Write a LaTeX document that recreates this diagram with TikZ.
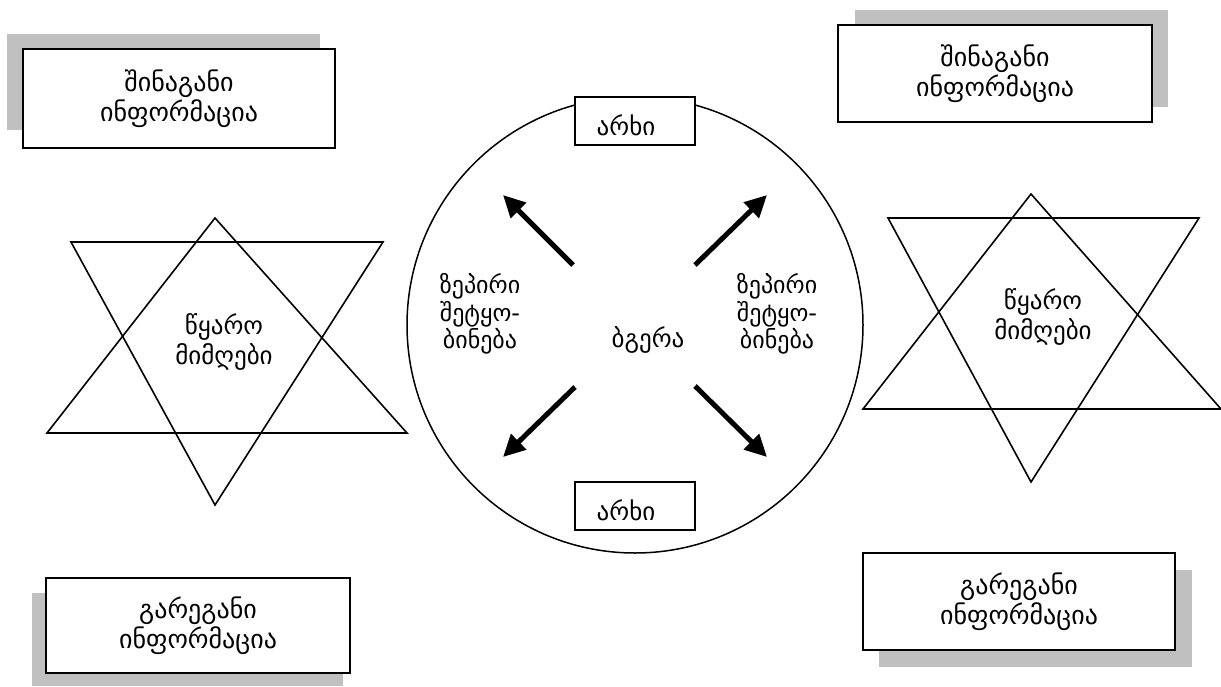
\documentclass[tikz,border=0pt]{standalone}
\usepackage{fontspec}
\newfontfamily\geo{DejaVu Sans}
\usetikzlibrary{arrows.meta}
\definecolor{shadowgray}{HTML}{C0C0C0}
\tikzset{
  infobox/.style={draw, line width=1.6pt, fill=white, align=center,
    font=\geo\fontsize{26}{30}\selectfont, inner sep=0pt},
  starline/.style={line width=1.6pt, line join=miter},
  starlabel/.style={align=center, font=\geo\fontsize{25}{30}\selectfont},
  chanbox/.style={draw, line width=1.2pt, fill=white,
    minimum width=120pt, minimum height=48pt, inner sep=0pt},
  chanlabel/.style={font=\geo\fontsize{25}{28}\selectfont, inner sep=0pt},
  innerlabel/.style={align=center, font=\geo\fontsize{24}{27.5}\selectfont},
  flow/.style={line width=5pt, -{Triangle[length=22pt,width=21pt]}},
}
\begin{document}
\begin{tikzpicture}[x=1pt,y=-1pt]
\useasboundingbox (0,0) rectangle (1221,686);

% shadows behind the information boxes
\fill[shadowgray] (7,34) rectangle (320,130);
\fill[shadowgray] (855,10) rectangle (1168,107);
\fill[shadowgray] (32,593) rectangle (343,686);
\fill[shadowgray] (879,570) rectangle (1192,667);

% information boxes
\node[infobox, minimum width=312pt, minimum height=99pt] (intl) at (179,98.5)
  {შინაგანი\\ინფორმაცია};
\node[infobox, minimum width=314pt, minimum height=97pt] (intr) at (995,73.5)
  {შინაგანი\\ინფორმაცია};
\node[infobox, minimum width=304pt, minimum height=95pt] (extl) at (198,625.5)
  {გარეგანი\\ინფორმაცია};
\node[infobox, minimum width=312pt, minimum height=97pt] (extr) at (1019,601.5)
  {გარეგანი\\ინფორმაცია};

% left star: source / receiver
\coordinate (lu1) at (215,218);
\coordinate (lu2) at (47,433);
\coordinate (lu3) at (407,433);
\coordinate (ld1) at (71,242);
\coordinate (ld2) at (383,242);
\coordinate (ld3) at (215,505);
\draw[starline] (lu1) -- (lu2) -- (lu3) -- cycle;
\draw[starline] (ld1) -- (ld2) -- (ld3) -- cycle;
\node[starlabel] (srcl) at (224,342) {წყარო\\მიმღები};

% right star: source / receiver
\coordinate (ru1) at (1031,194);
\coordinate (ru2) at (863,409);
\coordinate (ru3) at (1221,409);
\coordinate (rd1) at (888,218);
\coordinate (rd2) at (1199,218);
\coordinate (rd3) at (1031,482);
\draw[starline] (ru1) -- (ru2) -- (ru3) -- cycle;
\draw[starline] (rd1) -- (rd2) -- (rd3) -- cycle;
\node[starlabel] (srcr) at (1043,317) {წყარო\\მიმღები};

% channel circle with its two channel boxes
\node[circle, draw, line width=1.5pt, minimum size=456pt, inner sep=0pt] (chan) at (635,325) {};
\node[chanbox] (chtop) at (635,121) {};
\node[chanbox] (chbot) at (635,506) {};
\node[chanlabel] (chtoplbl) at (626,125) {არხი};
\node[chanlabel] (chbotlbl) at (626,510) {არხი};

\node[innerlabel] (speechl) at (480,314) {ზეპირი\\შეტყო-\\ბინება};
\node[innerlabel] (speechr) at (777,314) {ზეპირი\\შეტყო-\\ბინება};
\node[innerlabel, font=\geo\fontsize{25}{28}\selectfont] (sound) at (648,340) {ბგერა};

% arrows radiating from the centre
\coordinate (t1) at (573,265); \coordinate (h1) at (503,195);
\coordinate (t2) at (695,265); \coordinate (h2) at (767,195);
\coordinate (t3) at (575,387); \coordinate (h3) at (503,457);
\coordinate (t4) at (695,386); \coordinate (h4) at (767,457);
\draw[flow] (t1) -- (h1);
\draw[flow] (t2) -- (h2);
\draw[flow] (t3) -- (h3);
\draw[flow] (t4) -- (h4);
\end{tikzpicture}
\end{document}
